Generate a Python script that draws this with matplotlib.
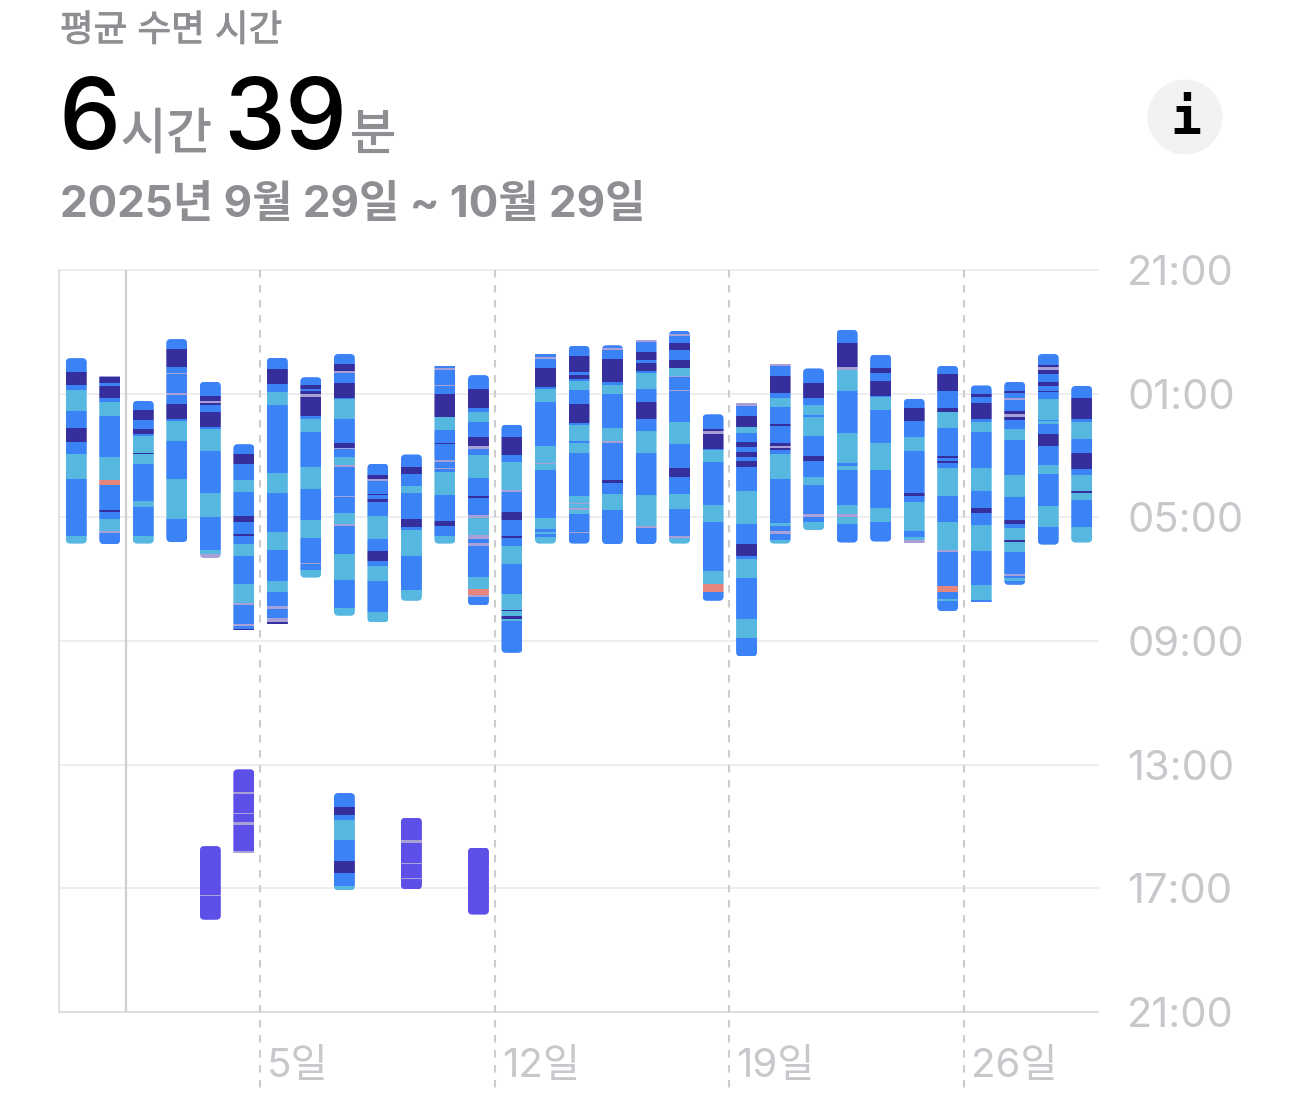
import matplotlib
matplotlib.use("Agg")
import matplotlib.pyplot as plt
import matplotlib.patheffects as pe
from matplotlib.patches import FancyBboxPatch, Circle
from matplotlib.transforms import blended_transform_factory, ScaledTranslation

FONT = ['Inter', 'Noto Sans CJK KR', 'DejaVu Sans']
plt.rcParams['font.family'] = FONT

W, H = 1290, 1103
DAYS = 31
MAX_MIN = 1440

title_text = "평균 수면 시간"
avg_hours, avg_minutes = "6", "39"
unit_hours, unit_minutes = "시간", "분"
date_range = "2025년 9월 29일 ~ 10월 29일"

y_tick_pos = [0, 240, 480, 720, 960, 1200, 1440]
y_tick_labels = ["21:00", "01:00", "05:00", "09:00", "13:00", "17:00", "21:00"]
x_tick_pos = [6, 13, 20, 27]
x_tick_labels = ["5일", "12일", "19일", "26일"]
month_line = 2

# B deep-blue, C cyan, N navy, S salmon, L lilac, P purple
STAGE_COLORS = {'B': '#3B82F6', 'C': '#56B8E0', 'N': '#352F9E',
                'S': '#E5857C', 'L': '#A9A0D8', 'P': '#5D50E8'}

# (day index, stage per segment, segment boundaries in minutes after 21:00)
sleep = [
 (0, "BNBCBNBCBC", [171,197,223,233,273,307,334,357,405,516,531]),
 (1, "LNBNBCBCSBNBCLB", [206,208,220,226,248,256,283,363,408,417,466,470,483,506,510,532]),
 (2, "BNBNBCNCBCBC", [254,272,291,308,319,323,355,357,377,448,460,516,531]),
 (3, "BNBLBLBNBCBCB", [134,153,188,199,202,239,242,260,289,293,332,406,483,528]),
 (4, "BNLNBNBCBCBCL", [217,245,255,258,262,276,305,309,351,433,479,543,552,559]),
 (5, "BNBCBNBNBCBCLBLBN", [338,357,377,408,431,477,489,512,516,532,555,609,647,651,687,690,696,699]),
 (6, "BNBCBCBCBCBLBLN", [170,192,221,237,262,394,433,508,543,604,625,653,657,676,683,687]),
 (7, "BNBNLNBCBCBCBLBC", [208,223,231,234,241,246,284,289,314,382,425,485,520,569,571,582,597]),
 (8, "BNLBNBCBNLBCLBLBCLBCBC", [163,182,196,199,219,248,250,289,336,345,348,363,378,382,439,441,472,493,497,551,602,656,671]),
 (9, "BNLBNBNBCBNBCBC", [376,397,406,409,435,437,444,450,477,522,545,565,574,604,664,684]),
 (10, "BNBCBNBCBC", [358,382,396,419,433,483,499,505,555,621,642]),
 (11, "BLBLBNCBNBLBLBCBNBC", [187,190,194,223,226,241,285,311,336,338,369,373,384,387,392,437,487,497,516,531]),
 (12, "BNBCBNLBCBNBLCLBLBCSLB", [204,231,268,276,295,324,342,347,359,404,439,442,475,481,514,522,530,536,596,620,631,635,651]),
 (13, "BNBCLBNBNBCBCNCNCB", [300,324,359,373,427,431,470,485,516,520,536,571,628,660,662,672,677,681,743]),
 (14, "BLBNBCBCLCBCBCBC", [163,168,173,190,227,231,256,342,374,377,388,481,503,508,512,518,531]),
 (15, "BNBNBCBNBCBCBCLCLCBLB", [147,167,198,204,211,215,233,260,297,301,332,336,355,439,452,454,462,466,474,508,510,531]),
 (16, "BLBNBCBCLBNBCB", [146,152,155,173,217,223,241,307,332,336,408,413,435,466,532]),
 (17, "LBNBNBCBNBCBCLB", [136,140,160,175,181,196,200,231,256,289,312,355,437,497,501,532]),
 (18, "BLBNBNCLBLBCBNBCBLC", [118,125,128,142,156,175,191,206,208,233,235,295,338,384,402,435,464,516,520,531]),
 (19, "BNLNBCBCBCSB", [280,309,312,318,347,349,373,456,489,584,610,624,642]),
 (20, "LBNCBNBNBNBCBNBCBCB", [259,264,283,305,316,334,343,353,363,371,382,429,493,532,555,561,598,677,714,750]),
 (21, "LBNBCBNBNLNBCBCBLBC", [182,186,206,239,248,266,299,303,336,342,345,349,357,406,491,497,507,512,524,531]),
 (22, "BNBCBCBNBCBLBC", [191,219,248,262,281,285,322,361,371,402,417,474,479,489,505]),
 (23, "BNLCBCBCBCLCB", [116,142,188,194,235,316,375,380,388,456,474,479,493,529]),
 (24, "BNBNBCBCBCB", [164,190,200,215,245,246,272,336,388,462,489,527]),
 (25, "BNBCBNBCBCL", [250,268,293,324,351,433,439,450,507,518,524,529]),
 (26, "BNBNCBNBNBCBCLBSBCB", [186,202,235,268,276,307,361,365,371,375,384,439,489,543,547,613,625,639,642,662]),
 (27, "BNBNBCBCBNBCBCB", [224,241,246,258,289,295,314,384,429,462,472,495,545,611,640,644]),
 (28, "BNBLBNLNBCBCBNBCNCBLBCB", [217,234,239,248,252,274,280,285,291,309,330,398,441,485,493,501,524,527,547,590,594,598,604,611]),
 (29, "BNLNBNBNBCBCBNBCBCB", [163,184,188,194,202,217,225,234,237,250,291,293,299,318,342,378,396,458,499,533]),
 (30, "BNBCBNBCNCBC", [225,248,289,295,328,355,386,398,429,433,446,499,529]),
 # daytime sleep
 (4, "PLP", [1118,1213,1215,1261]),
 (5, "PLPLPLPL", [969,1013,1017,1053,1055,1072,1077,1127,1132]),
 (8, "BNBCBNBC", [1015,1042,1057,1067,1106,1147,1170,1195,1204]),
 (10, "PLPLPLP", [1063,1106,1112,1151,1152,1180,1182,1202]),
 (12, "P", [1121,1251]),
]

fig = plt.figure(figsize=(W / 100, H / 100), dpi=100, facecolor='white')
ax = fig.add_axes([59 / W, 1 - 1012 / H, (1098 - 59) / W, (1012 - 270) / H])
ax.set_xlim(0, DAYS)
ax.set_ylim(MAX_MIN, 0)
ax.set_facecolor('white')
for name, spine in ax.spines.items():
    spine.set_visible(False)

px_x = DAYS / (1098 - 59)
px_y = MAX_MIN / (1012 - 270)
bar_w = 21 * px_x
bar_shift = 0.5 * px_x
radius_x = 4.5 * px_x
aspect = (4.5 * px_y) / radius_x

# grid
for i, t in enumerate(y_tick_pos):
    ax.plot([0, DAYS], [t, t], color='#EEEEF0', lw=1.4, zorder=0, clip_on=False)
ax.plot([0, 0], [0, MAX_MIN], color='#E0E0E2', lw=1.4, zorder=0.5, clip_on=False)
ax.plot([0, DAYS], [MAX_MIN, MAX_MIN], color='#DEDEE0', lw=1.4, zorder=0.5, clip_on=False)
ax.plot([month_line, month_line], [0, MAX_MIN], color='#CFCFD2', lw=1.6, zorder=0.5)
trans = blended_transform_factory(ax.transData, ax.transAxes)
for x in x_tick_pos:
    ax.plot([x, x], [1, -78 / 742], transform=trans, color='#CDCDD0', lw=1.5,
            ls=(0, (3.6, 3.6)), zorder=0.6, clip_on=False)

# sleep bars
for day, stages, bounds in sleep:
    cx = day + 0.5 + bar_shift
    left = cx - bar_w / 2
    top = bounds[0]
    bottom = bounds[-1]
    clip_top = top - 4.5 * px_y * 1.2 if bounds[1] - bounds[0] < 6 else top
    clip_bot = bottom + 4.5 * px_y * 1.2 if bounds[-1] - bounds[-2] < 6 else bottom
    clip = FancyBboxPatch((left, clip_top), bar_w, clip_bot - clip_top,
                          boxstyle=f"round,pad=0,rounding_size={radius_x}",
                          mutation_aspect=aspect, transform=ax.transData,
                          fc='none', ec='none')
    ax.add_patch(clip)
    for s, a, b in zip(stages, bounds[:-1], bounds[1:]):
        rects = ax.bar(cx, b - a, bottom=a, width=bar_w,
                       color=STAGE_COLORS[s], lw=0, zorder=3)
        for r in rects:
            r.set_clip_path(clip)

# axes ticks
ax.yaxis.tick_right()
ax.set_yticks(y_tick_pos, y_tick_labels)
ax.set_xticks(x_tick_pos, x_tick_labels)
ax.tick_params(axis='both', length=0)
ax.tick_params(axis='y', pad=21, labelsize=30, labelcolor='#C7C7CC')
ax.tick_params(axis='x', pad=26, labelsize=29, labelcolor='#C7C7CC')
for lbl in ax.get_xticklabels():
    lbl.set_ha('left')
    lbl.set_transform(lbl.get_transform() + ScaledTranslation(7 / 100, 0, fig.dpi_scale_trans))

def put(x, y, s, stroke=0.0, **kw):
    t = fig.text(x / W, 1 - y / H, s, ha='left', va='baseline', **kw)
    if stroke:
        t.set_path_effects([pe.withStroke(linewidth=stroke, foreground=kw['color'])])
    return t

put(60, 41, title_text, stroke=0.7, fontsize=26.3, color='#8E8E93')
put(58, 149, avg_hours, fontsize=71, color='black', fontweight='medium')
put(121, 149, unit_hours, stroke=0.8, fontsize=35.5, color='#8E8E93')
put(223, 149, avg_minutes, fontsize=71, color='black', fontweight='medium')
put(350, 149, unit_minutes, stroke=0.8, fontsize=35.5, color='#8E8E93')
put(60, 217, date_range, fontsize=31.6, color='#8E8E93', fontweight='bold')

overlay = fig.add_axes([0, 0, 1, 1], facecolor='none')
overlay.set_xlim(0, W)
overlay.set_ylim(H, 0)
overlay.axis('off')
overlay.add_patch(Circle((1185, 117), 37.5, fc='#F2F2F3', ec='none'))
overlay.text(1186, 120, "i", ha='center', va='center', fontsize=37, fontweight='bold',
             family='DejaVu Sans Mono', color='black')

fig.savefig('out.png', dpi=100)
